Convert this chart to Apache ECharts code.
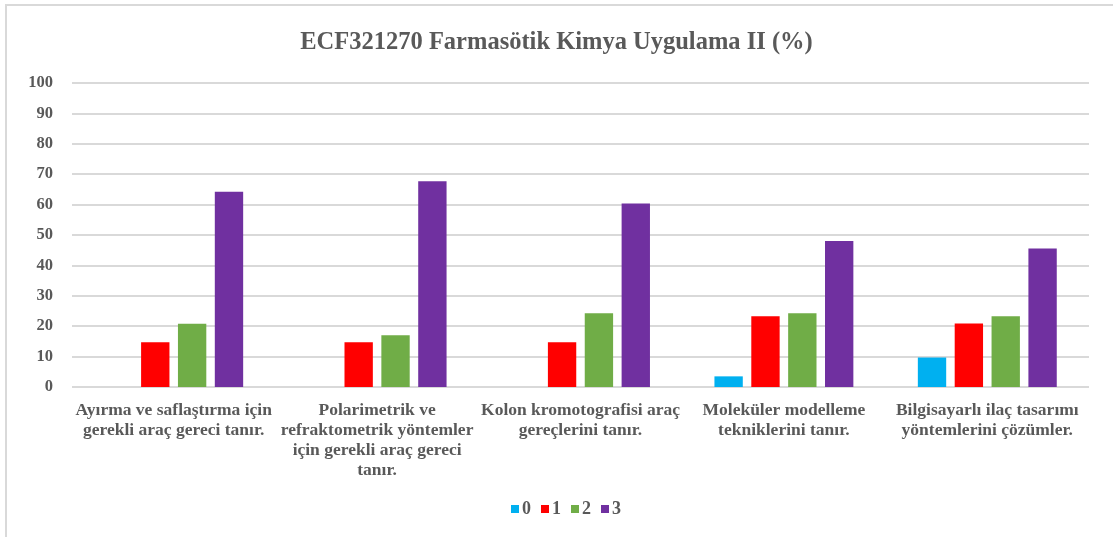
<!DOCTYPE html>
<html>
<head>
<meta charset="utf-8">
<script src="https://cdn.jsdelivr.net/npm/echarts@6/dist/echarts.min.js"></script>
<style>
  html, body { margin: 0; padding: 0; background: #fff; }
  #chart { width: 1113px; height: 537px; }
</style>
</head>
<body>
<div id="chart"></div>
<script>
var categories = [
  'Ayırma ve saflaştırma için\ngerekli araç gereci tanır.',
  'Polarimetrik ve\nrefraktometrik yöntemler\niçin gerekli araç gereci\ntanır.',
  'Kolon kromotografisi araç\ngereçlerini tanır.',
  'Moleküler modelleme\nteknikleri̇ni tanır.'.replace('i̇', 'i'),
  'Bilgisayarlı ilaç tasarımı\nyöntemlerini çözümler.'
]
var seriesNames = ['0', '1', '2', '3']
var values0 = [0, 0, 0, 3.5, 9.7]
var values1 = [14.7, 14.7, 14.7, 23.3, 20.9]
var values2 = [20.8, 17.0, 24.3, 24.3, 23.3]
var values3 = [64.2, 67.7, 60.4, 48.0, 45.6]
var colors = ['#00B0F0', '#FF0000', '#70AD47', '#7030A0']

var serif = '"Liberation Serif", "DejaVu Serif", serif'
var textColor = '#595959'

var chartDom = document.getElementById('chart')
var myChart = echarts.init(chartDom)
var allValues = [values0, values1, values2, values3]
var option = {
  animation: false,
  color: colors,
  title: {
    text: 'ECF321270 Farmasötik Kimya Uygulama II (%)',
    left: 'center',
    top: 25,
    textStyle: {
      fontFamily: serif,
      fontSize: 24.5,
      fontWeight: 'bold',
      color: textColor,
    },
  },
  graphic: [
    {
      type: 'rect',
      shape: { x: 6, y: 5, width: 1200, height: 600 },
      style: { fill: 'none', stroke: '#d9d9d9', lineWidth: 2 },
      silent: true,
    },
  ],
  legend: {
    data: seriesNames,
    bottom: 14,
    left: 506,
    itemWidth: 8,
    itemHeight: 8,
    itemGap: 10,
    icon: 'rect',
    textStyle: {
      fontFamily: serif,
      fontSize: 18,
      fontWeight: 'bold',
      color: textColor,
      padding: [0, 0, 0, -2],
    },
  },
  grid: {
    left: 72,
    right: 24,
    top: 83,
    bottom: 150,
  },
  xAxis: {
    type: 'category',
    data: categories,
    axisLine: { show: false },
    axisTick: { show: false },
    axisLabel: {
      interval: 0,
      margin: 13,
      fontFamily: serif,
      fontSize: 17.5,
      fontWeight: 'bold',
      color: textColor,
      lineHeight: 20,
    },
  },
  yAxis: {
    type: 'value',
    min: 0,
    max: 100,
    interval: 10,
    axisLine: { show: false },
    axisTick: { show: false },
    splitLine: { lineStyle: { color: '#d9d9d9', width: 2 } },
    axisLabel: {
      margin: 19,
      fontFamily: serif,
      fontSize: 16.5,
      fontWeight: 'bold',
      color: textColor,
    },
  },
  series: seriesNames.map(function (name, i) {
    return {
      name: name,
      type: 'bar',
      data: allValues[i],
      barGap: '30%',
      barCategoryGap: '31.7%',
      itemStyle: { color: colors[i] },
    }
  }),
}
option && myChart.setOption(option)
window.onresize = () => {
  myChart.resize()
}
</script>
</body>
</html>
